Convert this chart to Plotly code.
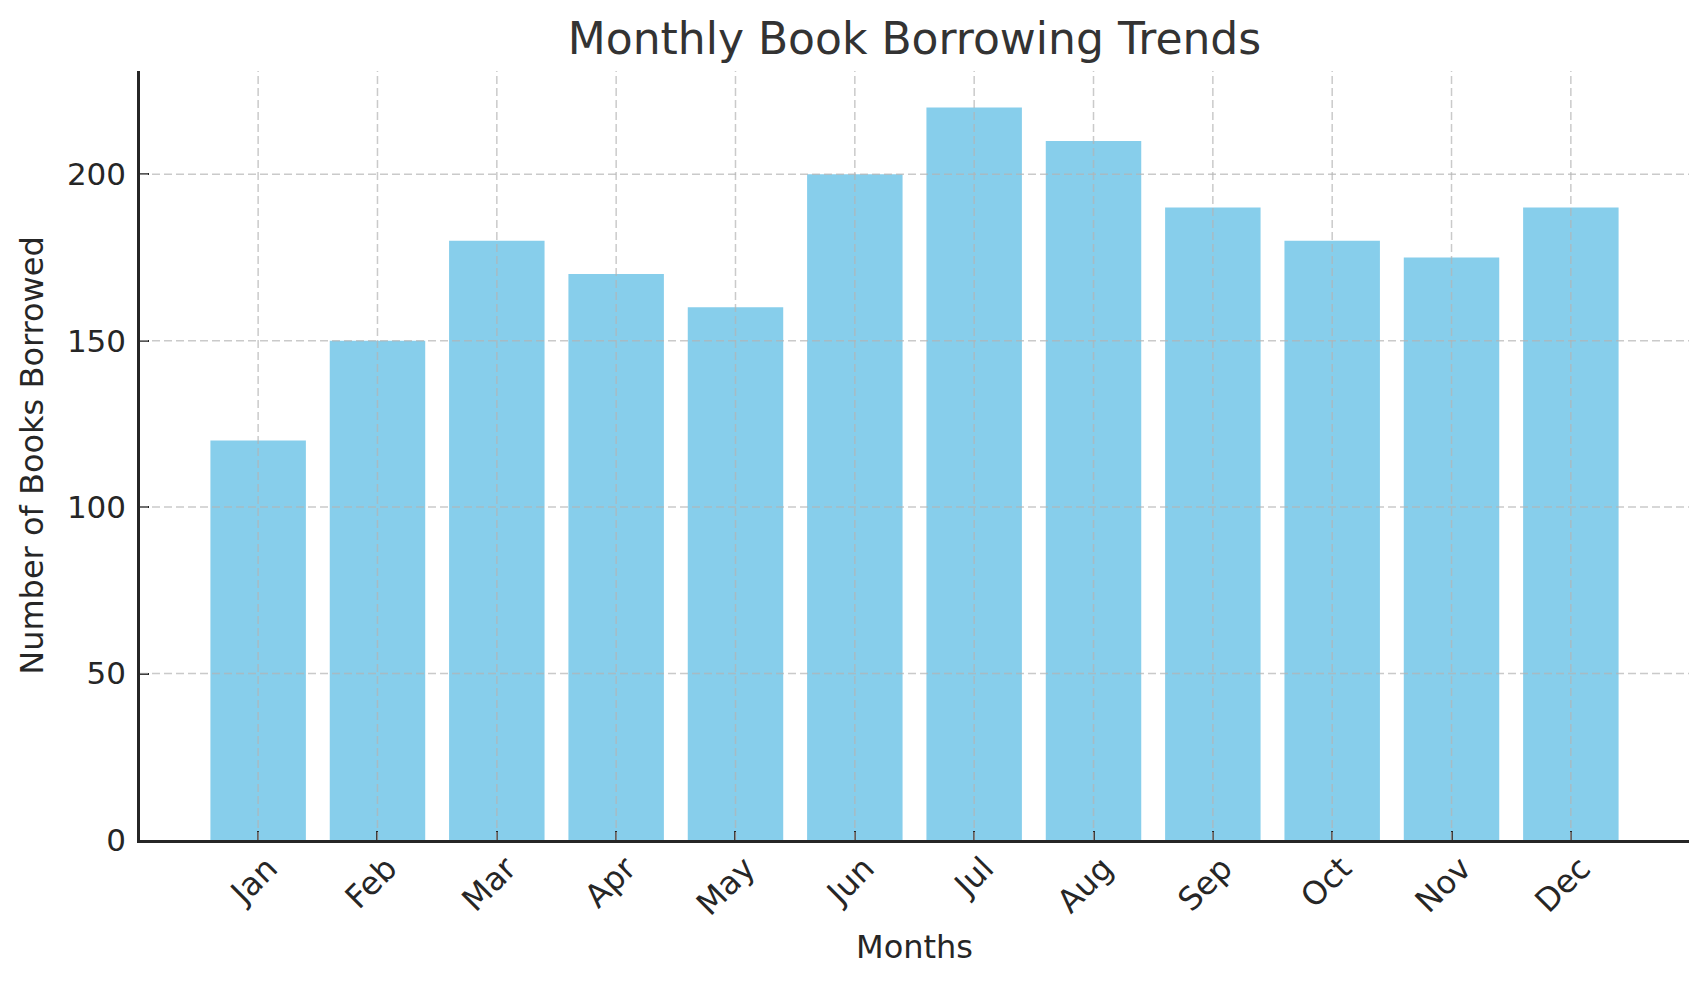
import plotly.graph_objects as go

months = ["Jan", "Feb", "Mar", "Apr", "May", "Jun", "Jul", "Aug", "Sep", "Oct", "Nov", "Dec"]
books = [120, 150, 180, 170, 160, 200, 220, 210, 190, 180, 175, 190]
y_ticks = [0, 50, 100, 150, 200]

FONT = "DejaVu Sans"
DARK = "#262626"
W, H = 1707, 986
ML, MR, MT, MB = 132, 26, 63, 154

fig = go.Figure()
fig.add_trace(go.Bar(x=months, y=books, marker=dict(color="#87CEEB", line=dict(width=0)),
                     width=0.8))

grid_style = dict(color="rgba(180,180,180,0.7)", width=1.5, dash="8px,4px")
for m in months:
    fig.add_shape(type="line", xref="x", yref="paper", x0=m, x1=m, y0=0, y1=1,
                  line=grid_style, layer="above")
for t in y_ticks[1:]:
    fig.add_shape(type="line", xref="paper", yref="y", x0=0, x1=1, y0=t, y1=t,
                  line=grid_style, layer="above")

fig.update_layout(
    width=W, height=H,
    margin=dict(l=ML, r=MR, t=MT, b=MB),
    paper_bgcolor="white", plot_bgcolor="white",
    font=dict(family=FONT, color=DARK, size=32),
    title=dict(text="Monthly Book Borrowing Trends", x=(ML + (W - MR)) / 2 / W, xanchor="center",
               y=1 - 31 / H, yanchor="middle", font=dict(size=44, color="#333333")),
    showlegend=False,
    bargap=0.2,
)
fig.update_xaxes(
    type="category", range=[-0.99, 11.99],
    showline=True, linecolor=DARK, linewidth=2.5, mirror=False,
    showgrid=False, zeroline=False,
    ticks="inside", ticklen=9, tickwidth=2, tickcolor=DARK,
    tickangle=-45, tickfont=dict(size=32, color=DARK),
    ticklabelshift=10, ticklabelstandoff=-6,
    title=dict(text="Months", font=dict(size=32, color=DARK), standoff=14),
    layer="above traces",
)
fig.update_yaxes(
    range=[0, 231], tickvals=y_ticks, ticktext=[str(v) for v in y_ticks],
    showline=True, linecolor=DARK, linewidth=2.5,
    showgrid=False, zeroline=False,
    ticks="inside", ticklen=9, tickwidth=2, tickcolor=DARK,
    tickfont=dict(size=31, color=DARK), ticklabelstandoff=5,
    title=dict(text="Number of Books Borrowed", font=dict(size=32, color=DARK), standoff=14),
    layer="above traces",
)

fig.write_html("out.html")
